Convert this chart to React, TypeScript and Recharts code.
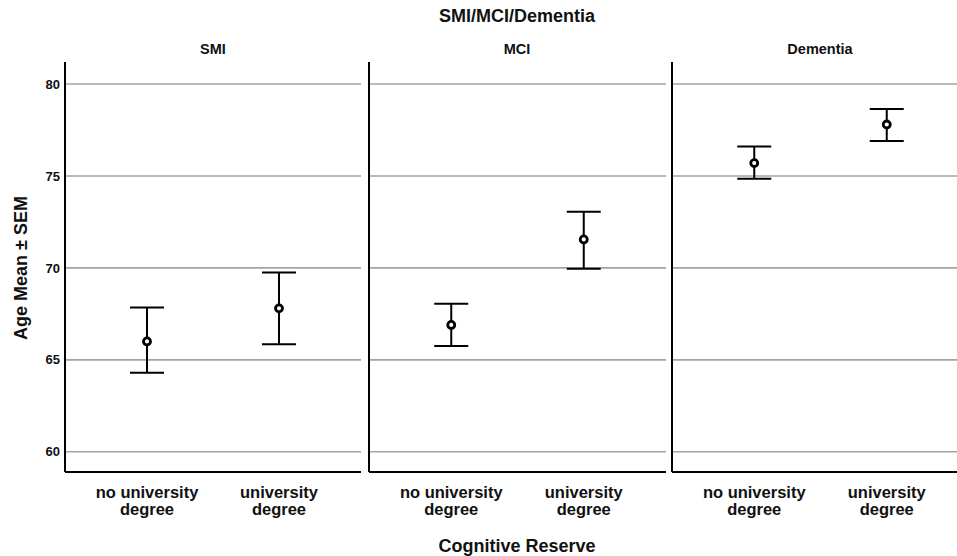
import React from 'react';
import { ScatterChart, Scatter, XAxis, YAxis, ReferenceLine, ErrorBar } from 'recharts';

const groups = ['no university degree', 'university degree'];
const groupPos = [0.5, 1.5];
const panels = ['SMI', 'MCI', 'Dementia'];

// age mean and the mean ± SEM ends
const meanSMI = [66.0, 67.8];
const lowSMI = [64.3, 65.85];
const highSMI = [67.85, 69.75];

const meanMCI = [66.9, 71.55];
const lowMCI = [65.75, 69.95];
const highMCI = [68.05, 73.05];

const meanDem = [75.7, 77.8];
const lowDem = [74.85, 76.9];
const highDem = [76.6, 78.65];

const yTicks = [60, 65, 70, 75, 80];
const yDomain = [58.9, 81.2];

const FONT = '"Liberation Sans", Arial, sans-serif';

function makeRows(mean: number[], low: number[], high: number[]) {
  return groups.map((g, i) => ({
    name: g,
    x: groupPos[i],
    y: mean[i],
    err: [mean[i] - low[i], high[i] - mean[i]],
  }));
}

const panelData = [
  makeRows(meanSMI, lowSMI, highSMI),
  makeRows(meanMCI, lowMCI, highMCI),
  makeRows(meanDem, lowDem, highDem),
];

function GroupTick(props: any) {
  const { x, y, payload } = props;
  const idx = groupPos.indexOf(payload.value);
  const label = groups[idx] || '';
  const words = label.split(' ');
  const last = words.pop();
  const first = words.join(' ');
  return (
    <text x={x} y={y} textAnchor="middle" fontFamily={FONT} fontSize={16.5} fontWeight="bold" fill="#111">
      <tspan x={x} dy={26}>{first}</tspan>
      <tspan x={x} dy={17}>{last}</tspan>
    </text>
  );
}

function Dot(props: any) {
  const { cx, cy } = props;
  return <circle cx={cx} cy={cy} r={3.5} fill="#fff" stroke="#000" strokeWidth={2.8} />;
}

function Panel({ idx }: { idx: number }) {
  const first = idx === 0;
  return (
    <ScatterChart
      width={first ? 363 : 300}
      height={556}
      margin={{ top: 62, right: 2, left: 0, bottom: 0 }}
    >
      {yTicks.map((t) => (
        <ReferenceLine key={t} y={t} stroke="#a3a3a3" strokeWidth={1.6} ifOverflow="visible" />
      ))}
      <XAxis
        type="number"
        dataKey="x"
        domain={[0, 2]}
        ticks={groupPos}
        interval={0}
        padding={{ left: 16, right: 16 }}
        height={84}
        axisLine={{ stroke: '#000', strokeWidth: 2 }}
        tickLine={false}
        tickSize={0}
        tickMargin={0}
        tick={<GroupTick />}
      />
      <YAxis
        type="number"
        dataKey="y"
        domain={yDomain}
        allowDataOverflow
        ticks={yTicks}
        interval={0}
        width={first ? 65 : 1}
        axisLine={{ stroke: '#000', strokeWidth: 2 }}
        tickLine={false}
        tickSize={0}
        tickMargin={5}
        tick={first ? { fontSize: 13, fontWeight: 'bold', fill: '#111', fontFamily: FONT } : false}
      />
      <Scatter data={panelData[idx]} shape={<Dot />} isAnimationActive={false}>
        <ErrorBar dataKey="err" direction="y" width={17} stroke="#000" strokeWidth={2} />
      </Scatter>
    </ScatterChart>
  );
}

const abs = (left: number, top: number): React.CSSProperties => ({ position: 'absolute', left, top });

export default function App() {
  const panelLeft = [0, 368, 671];
  const panelCenter = [213, 517, 820];
  return (
    <div
      style={{
        position: 'absolute',
        left: 0,
        top: 0,
        width: 957,
        height: 556,
        overflow: 'hidden',
        background: '#fff',
        fontFamily: FONT,
        color: '#111',
      }}
    >
      {panels.map((p, i) => (
        <div key={p} style={abs(panelLeft[i], 0)}>
          <Panel idx={i} />
        </div>
      ))}
      <div style={{ ...abs(317, 5), width: 400, textAlign: 'center', fontSize: 18, fontWeight: 'bold', lineHeight: '22px' }}>
        SMI/MCI/Dementia
      </div>
      {panels.map((p, i) => (
        <div
          key={'t' + p}
          style={{
            ...abs(panelCenter[i] - 100, 40),
            width: 200,
            textAlign: 'center',
            fontSize: 14.5,
            fontWeight: 'bold',
            lineHeight: '18px',
          }}
        >
          {p}
        </div>
      ))}
      <div
        style={{
          ...abs(21 - 100, 268 - 11),
          width: 200,
          textAlign: 'center',
          fontSize: 18,
          fontWeight: 'bold',
          transform: 'rotate(-90deg)',
          lineHeight: '22px',
        }}
      >
        Age Mean ± SEM
      </div>
      <div style={{ ...abs(317, 535), width: 400, textAlign: 'center', fontSize: 18, fontWeight: 'bold', lineHeight: '22px' }}>
        Cognitive Reserve
      </div>
    </div>
  );
}
